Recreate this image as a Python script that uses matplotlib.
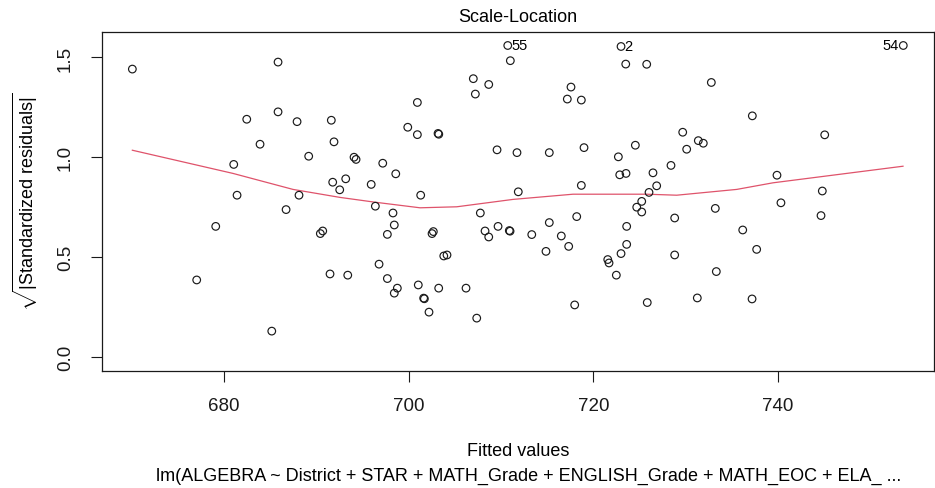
import matplotlib
matplotlib.use("Agg")
import matplotlib.pyplot as plt

plt.rcParams['font.family'] = ['Liberation Sans', 'DejaVu Sans']
plt.rcParams['mathtext.fontset'] = 'custom'
plt.rcParams['mathtext.rm'] = 'Liberation Sans'
plt.rcParams['mathtext.it'] = 'Liberation Sans:italic'

# fitted values and sqrt(|standardized residuals|) of the model
# (first three are the flagged observations 55, 2 and 54)
fitted = [
    710.73, 723.00, 753.57,
    670.07, 685.85, 682.46, 685.85, 687.91, 691.62, 683.90, 691.91, 689.17, 694.08,
    694.30, 697.19, 681.05, 691.77, 693.18, 692.53, 695.94, 681.41, 688.12, 696.39,
    686.72, 679.10, 690.69, 690.43, 696.79, 691.48, 693.40, 677.04, 685.17,
    711.01, 723.51, 725.78, 707.00, 708.67, 707.22, 717.58, 717.18, 718.70, 700.94,
    699.90, 700.94, 703.18, 703.26, 709.57, 711.73, 715.23, 718.99, 724.55, 722.71,
    722.86, 723.54, 698.60, 701.30, 711.87, 718.70, 726.03, 698.30, 698.44, 697.69,
    702.67, 702.53, 707.76, 708.27, 708.67, 709.68, 710.90, 710.98, 713.33, 715.23,
    716.53, 717.33, 718.20, 714.87, 697.69, 698.77, 698.44, 701.04, 701.62, 701.70,
    702.20, 703.25, 703.80, 704.15, 706.21, 707.37, 717.98, 721.56, 721.70, 722.49,
    723.00, 723.61, 723.61, 724.70, 725.24, 725.24, 725.84,
    732.78, 737.22, 745.06, 729.68, 731.37, 731.91, 730.11, 728.41, 726.46, 726.86,
    739.89, 744.80, 728.81, 733.21, 740.32, 744.66, 736.18, 737.69, 728.81, 733.32,
    731.26, 737.19,
]
sqrt_std_resid = [
    1.560, 1.555, 1.560,
    1.442, 1.477, 1.191, 1.228, 1.179, 1.186, 1.066, 1.078, 1.006, 1.001,
    0.990, 0.971, 0.965, 0.876, 0.893, 0.838, 0.865, 0.811, 0.811, 0.756,
    0.739, 0.655, 0.632, 0.619, 0.466, 0.417, 0.411, 0.387, 0.131,
    1.484, 1.467, 1.466, 1.394, 1.365, 1.317, 1.352, 1.292, 1.287, 1.275,
    1.151, 1.114, 1.120, 1.116, 1.038, 1.024, 1.024, 1.049, 1.061, 1.003,
    0.913, 0.920, 0.918, 0.811, 0.828, 0.860, 0.825, 0.722, 0.662, 0.615,
    0.629, 0.619, 0.722, 0.632, 0.602, 0.655, 0.634, 0.631, 0.614, 0.674,
    0.607, 0.555, 0.704, 0.530, 0.394, 0.346, 0.321, 0.362, 0.296, 0.293,
    0.226, 0.346, 0.507, 0.512, 0.346, 0.196, 0.262, 0.489, 0.472, 0.411,
    0.519, 0.565, 0.655, 0.751, 0.780, 0.727, 0.274,
    1.375, 1.208, 1.113, 1.126, 1.084, 1.071, 1.041, 0.960, 0.923, 0.858,
    0.911, 0.832, 0.697, 0.745, 0.773, 0.709, 0.637, 0.540, 0.512, 0.429,
    0.297, 0.292,
]
flag_ids = ['55', '2', '54']

# smoother through the points
smooth_x = [670.07, 680.97, 687.47, 692.56, 696.35, 701.23, 705.20, 711.30,
            717.80, 725.78, 729.03, 735.53, 739.46, 753.54]
smooth_y = [1.036, 0.920, 0.840, 0.800, 0.776, 0.748, 0.753, 0.790,
            0.816, 0.816, 0.811, 0.840, 0.873, 0.956]

W, H = 935, 489
fig = plt.figure(figsize=(W / 100, H / 100), dpi=100)
ax = fig.add_axes([101.7 / W, (H - 371.7) / H, (934.3 - 101.7) / W, (371.7 - 32.7) / H])

ax.scatter(fitted, sqrt_std_resid, s=30, facecolors='none', edgecolors='#1a1a1a',
           linewidths=0.85, zorder=3)
ax.plot(smooth_x, smooth_y, color='#DF536B', lw=0.9, zorder=2)

# label the three largest residuals
for i, lab in enumerate(flag_ids):
    if fitted[i] > 750:
        ax.annotate(lab, (fitted[i], sqrt_std_resid[i]), xytext=(-3.5, 0),
                    textcoords='offset points', ha='right', va='center', fontsize=10.5)
    else:
        ax.annotate(lab, (fitted[i], sqrt_std_resid[i]), xytext=(2.5, 0),
                    textcoords='offset points', ha='left', va='center', fontsize=10.5)

ax.set_xlim(666.75, 756.93)
ax.set_ylim(-0.067, 1.629)
ax.set_xticks([680, 700, 720, 740])
ax.set_yticks([0.0, 0.5, 1.0, 1.5])
ax.set_yticklabels(['0.0', '0.5', '1.0', '1.5'], rotation=90, va='center')
ax.tick_params(direction='out', length=8, width=0.8, labelsize=13.5, colors='#1a1a1a')
ax.tick_params(axis='x', pad=11)
ax.tick_params(axis='y', pad=12)
for sp in ax.spines.values():
    sp.set_linewidth(0.9)
    sp.set_color('#1a1a1a')

fig.text(518 / W, 1 - 17 / H, 'Scale-Location', ha='center', va='center', fontsize=13)
fig.text(518 / W, 1 - 452 / H, 'Fitted values', ha='center', va='center', fontsize=13)
fig.text(529 / W, 1 - 476 / H,
         'lm(ALGEBRA ~ District + STAR + MATH_Grade + ENGLISH_Grade + MATH_EOC + ELA_ ...',
         ha='center', va='center', fontsize=13)
fig.text(25 / W, 1 - 202 / H, r'$\sqrt{|\mathrm{Standardized\ residuals}|}$',
         rotation=90, ha='center', va='center', fontsize=13)

fig.savefig('out.png', dpi=100)
